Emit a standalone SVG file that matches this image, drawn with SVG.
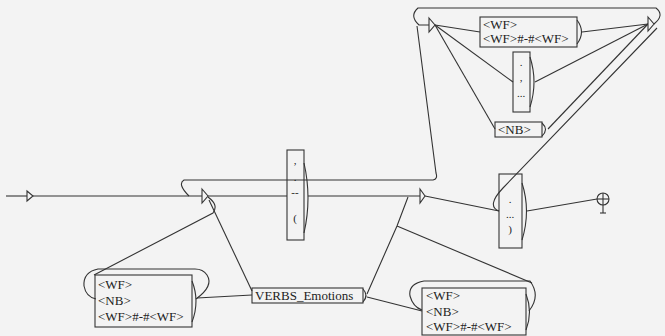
<svg xmlns="http://www.w3.org/2000/svg" width="665" height="336" viewBox="0 0 665 336">
<style>
.ln{fill:none;stroke:#333;stroke-width:1.1}
.bx{fill:none;stroke:#333;stroke-width:1.1}
.tri{fill:#f4f4f4;stroke:#333;stroke-width:1.1}
.t{font-family:"Liberation Serif","Times New Roman",serif;font-size:13px;fill:#222}
.s{font-size:11px}
.c{text-anchor:middle}
</style>
<rect width="665" height="336" fill="#f3f3f3"/>
<g id="connectors">
<line class="ln" x1="6" y1="196" x2="27" y2="196"/>
<line class="ln" x1="33" y1="196" x2="202" y2="196"/>
<line class="ln" x1="208" y1="196" x2="287" y2="196"/>
<line class="ln" x1="308" y1="196" x2="420" y2="196"/>
<path class="ln" d="M189,196 Q177,184 184,180 L433,180 Q438,179 436,173 L417,26"/>
<path class="ln" d="M429,25 L419,25 Q409,16 418,8 L656,8 Q665,15 654,24"/>
<line class="ln" x1="435" y1="25" x2="480" y2="32"/>
<line class="ln" x1="435" y1="25" x2="513" y2="82"/>
<line class="ln" x1="435" y1="25" x2="495" y2="129"/>
<line class="ln" x1="582" y1="32" x2="648" y2="24"/>
<line class="ln" x1="535" y1="82" x2="648" y2="24"/>
<line class="ln" x1="548" y1="129" x2="648" y2="24"/>
<path class="ln" d="M657,28 L503,188 Q486,206 499,211"/>
<line class="ln" x1="425" y1="196" x2="499" y2="211"/>
<line class="ln" x1="527" y1="211" x2="597" y2="199"/>
<path class="ln" d="M208,197 Q219,205 213,213 L94,275"/>
<path class="ln" d="M196,299 Q214,286 207,275 Q203,269 195,269 L98,269 Q83,272 84,286 Q86,297 96,299"/>
<line class="ln" x1="197" y1="298" x2="252" y2="295"/>
<line class="ln" x1="209" y1="200" x2="252" y2="291"/>
<path class="ln" d="M367,294 L397,226 L408,197"/>
<line class="ln" x1="532" y1="283" x2="397" y2="226"/>
<line class="ln" x1="367" y1="297" x2="422" y2="311"/>
<path class="ln" d="M529,311 Q541,296 530,281 L424,281 Q408,284 410,296 Q413,307 422,310"/>
</g>
<g id="initial"><polygon class="tri" points="27,191 33,196 27,201"/></g>
<g id="e1"><polygon class="tri" points="202,189 208,196 202,203"/></g>
<g id="e2"><polygon class="tri" points="420,189 425,196 420,203"/></g>
<g id="e3"><polygon class="tri" points="429,18 435,25 429,32"/></g>
<g id="e4"><polygon class="tri" points="648,17 654,24 648,31"/></g>
<g id="p1">
<rect class="bx" x="287" y="150" width="17" height="90"/>
<path class="ln" d="M304,163 Q312,198 304,233"/>
<text class="t s c" x="295" y="164">,</text>
<text class="t s c" x="295" y="181">.</text>
<text class="t s c" x="295" y="196">--</text>
<text class="t s c" x="295" y="222">(</text>
</g>
<g id="p2">
<rect class="bx" x="499" y="174" width="23" height="74"/>
<path class="ln" d="M522,183 Q531,211 522,240"/>
<text class="t s c" x="510" y="203">.</text>
<text class="t s c" x="510" y="218">...</text>
<text class="t s c" x="510" y="233">)</text>
</g>
<g id="final">
<circle class="ln" cx="603" cy="199" r="6"/>
<line class="ln" x1="597" y1="199" x2="609" y2="199"/>
<line class="ln" x1="603" y1="193" x2="603" y2="213"/>
<line class="ln" x1="600" y1="213" x2="606" y2="213"/>
</g>
<g id="b1">
<rect class="bx" x="480" y="17" width="97" height="30"/>
<path class="ln" d="M577,20 Q586,32 577,44"/>
<text class="t" x="483" y="29">&lt;WF&gt;</text>
<text class="t" x="483" y="43">&lt;WF&gt;#-#&lt;WF&gt;</text>
</g>
<g id="b2">
<rect class="bx" x="513" y="52" width="17" height="60"/>
<path class="ln" d="M530,57 Q538,82 530,107"/>
<text class="t s c" x="521" y="66">.</text>
<text class="t s c" x="521" y="81">,</text>
<text class="t s c" x="521" y="97">...</text>
</g>
<g id="nb">
<rect class="bx" x="495" y="122" width="47" height="15"/>
<path class="ln" d="M542,123 Q549,129.5 542,136"/>
<text class="t" x="498" y="134">&lt;NB&gt;</text>
</g>
<g id="bl">
<rect class="bx" x="95" y="275" width="97" height="52"/>
<path class="ln" d="M192,281 Q200,301 192,322"/>
<text class="t" x="98" y="289">&lt;WF&gt;</text>
<text class="t" x="98" y="305">&lt;NB&gt;</text>
<text class="t" x="98" y="321">&lt;WF&gt;#-#&lt;WF&gt;</text>
</g>
<g id="verbs">
<rect class="bx" x="252" y="288" width="111" height="15"/>
<path class="ln" d="M363,289 Q369,295.5 363,302"/>
<text class="t" x="255" y="300">VERBS_Emotions</text>
</g>
<g id="br">
<rect class="bx" x="422" y="288" width="104" height="47"/>
<path class="ln" d="M526,294 Q533,312 526,330"/>
<text class="t" x="426" y="300">&lt;WF&gt;</text>
<text class="t" x="426" y="316">&lt;NB&gt;</text>
<text class="t" x="426" y="331">&lt;WF&gt;#-#&lt;WF&gt;</text>
</g>
</svg>
